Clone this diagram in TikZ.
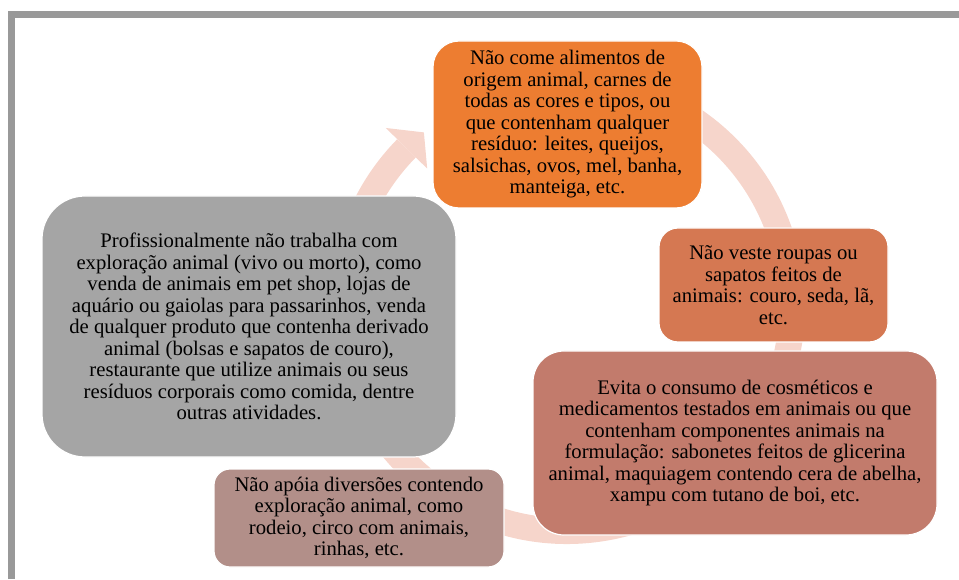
\documentclass[tikz,border=0pt]{standalone}
\usepackage{fontspec}
\setmainfont{Liberation Serif}
\definecolor{framegray}{HTML}{999999}
\definecolor{ringpink}{HTML}{F6D5CB}
\definecolor{boxorange}{HTML}{ED7D31}
\definecolor{boxrust}{HTML}{D57852}
\definecolor{boxclay}{HTML}{C27B6C}
\definecolor{boxmauve}{HTML}{B28F89}
\definecolor{boxgray}{HTML}{A5A5A5}

\begin{document}
\begin{tikzpicture}[x=1pt,y=1pt,font=\fontsize{20.7}{21.5}\selectfont]
    \tikzstyle{stage}=[rectangle,draw=white,line width=1.2pt,align=center,inner sep=0pt];
    \tikzstyle{ring}=[draw=ringpink,line width=26pt];
    \tikzstyle{frame}=[draw=framegray,line width=7pt];

    \useasboundingbox (0,0) rectangle (959,579);
    \draw[frame] (11.5,0) |- (959,564.5);

    % cycle arrow behind the boxes
    \coordinate (hub) at (567,273);
    \draw[ring] ([shift={(100:225)}]hub) arc[start angle=100,end angle=-224.5,radius=225];
    \fill[ringpink] ([shift={(135.5:196)}]hub) -- ([shift={(129.5:225)}]hub) -- ([shift={(135.5:254)}]hub) -- cycle;

    \node[stage,fill=boxorange,rounded corners=26pt,minimum width=269pt,minimum height=167pt] (food) at (567.5,454.5)
        {Não come alimentos de\\origem animal, carnes de\\todas as cores e tipos, ou\\que contenham qualquer\\resíduo: leites, queijos,\\salsichas, ovos, mel, banha,\\manteiga, etc.};
    \node[stage,fill=boxrust,rounded corners=19pt,minimum width=229pt,minimum height=114pt] (clothes) at (773.5,294)
        {Não veste roupas ou\\sapatos feitos de\\animais: couro, seda, lã,\\etc.};
    \node[stage,fill=boxclay,rounded corners=31pt,minimum width=404pt,minimum height=184pt] (cosmetics) at (735,136)
        {Evita o consumo de cosméticos e\\medicamentos testados em animais ou que\\contenham componentes animais na\\formulação: sabonetes feitos de glicerina\\animal, maquiagem contendo cera de abelha,\\xampu com tutano de boi, etc.};
    \node[stage,fill=boxmauve,rounded corners=16pt,minimum width=290pt,minimum height=98pt] (shows) at (359,61)
        {Não apóia diversões contendo\\exploração animal, como\\rodeio, circo com animais,\\rinhas, etc.};
    \node[stage,fill=boxgray,rounded corners=43pt,minimum width=414pt,minimum height=261pt] (work) at (249,252.5)
        {Profissionalmente não trabalha com\\exploração animal (vivo ou morto), como\\venda de animais em pet shop, lojas de\\aquário ou gaiolas para passarinhos, venda\\de qualquer produto que contenha derivado\\animal (bolsas e sapatos de couro),\\restaurante que utilize animais ou seus\\resíduos corporais como comida, dentre\\outras atividades.};
\end{tikzpicture}
\end{document}
